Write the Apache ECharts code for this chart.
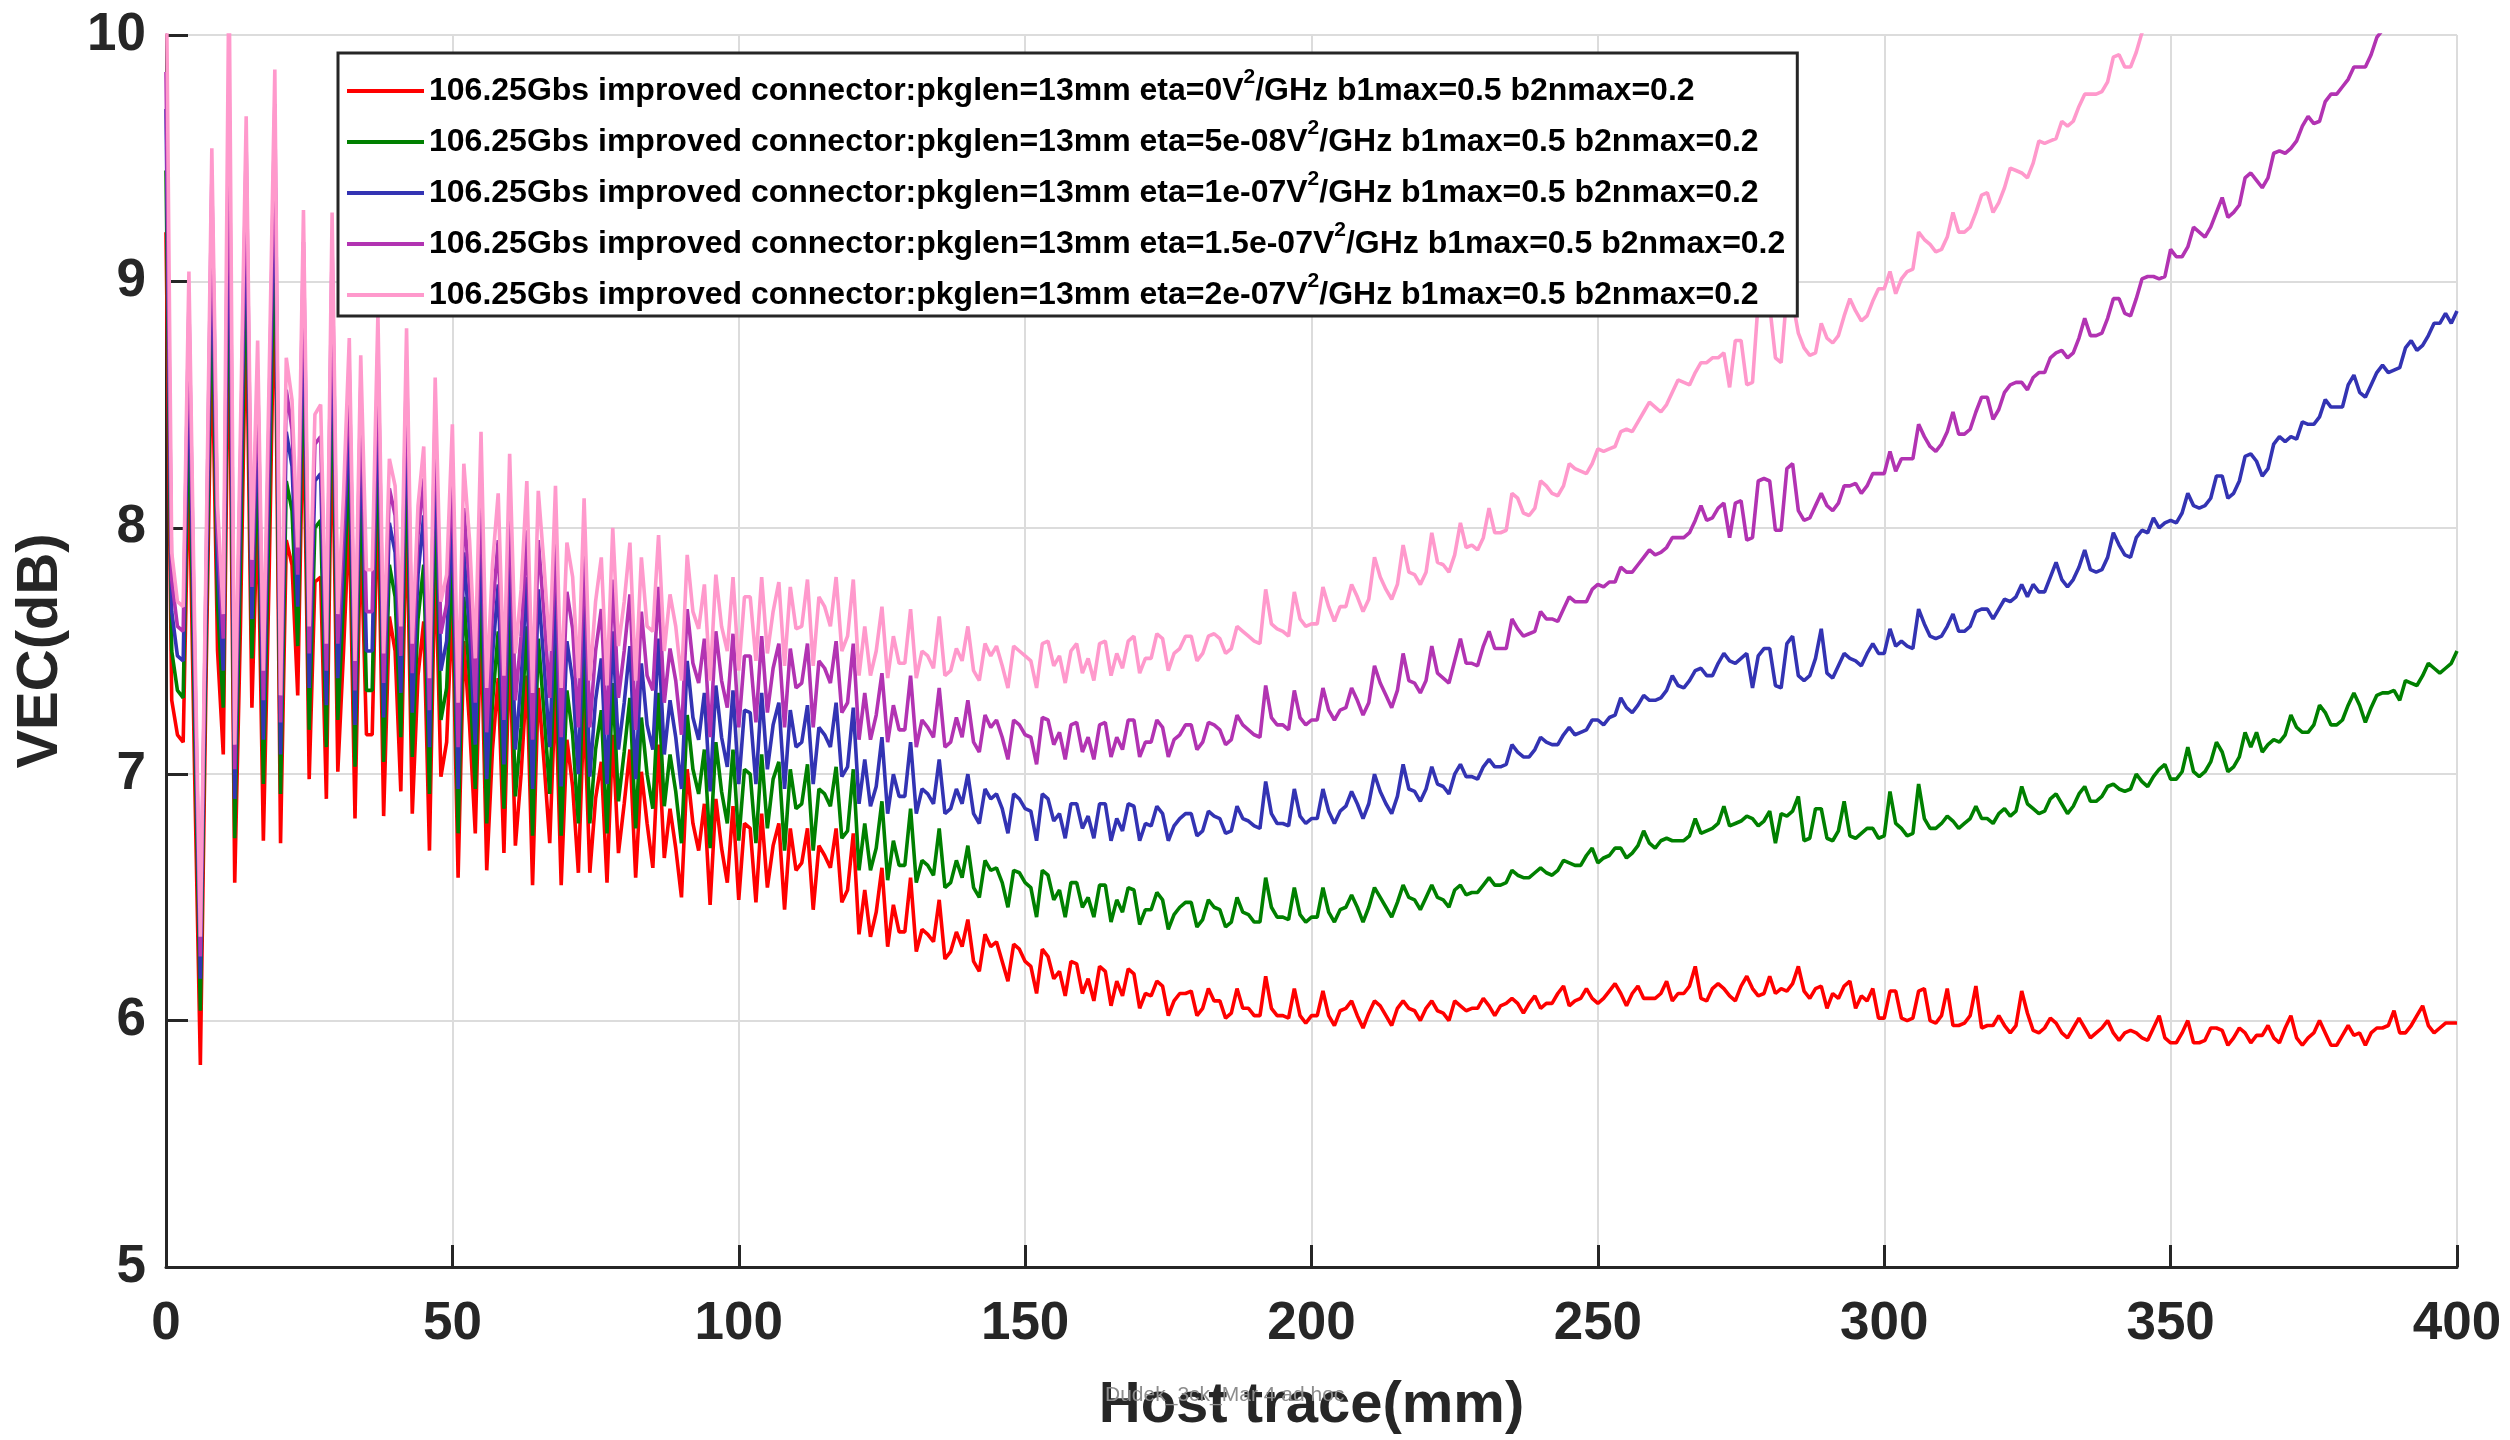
<!DOCTYPE html>
<html>
<head>
<meta charset="utf-8">
<script src="https://cdn.jsdelivr.net/npm/echarts@6/dist/echarts.min.js"></script>
<style>html,body{margin:0;padding:0;background:#fff;}#c{width:2510px;height:1440px;}</style>
</head>
<body>
<div id="c"></div>
<script>
// Host trace sampling grid (mm), one sample per mm from 0 to 400
const hostTrace = Array.from({length: 401}, (_, i) => i);

const xTicks = [0, 50, 100, 150, 200, 250, 300, 350, 400];
const yTicks = [5, 6, 7, 8, 9, 10];

const seriesNames = [
  '106.25Gbs improved connector:pkglen=13mm eta=0V^2/GHz b1max=0.5 b2nmax=0.2',
  '106.25Gbs improved connector:pkglen=13mm eta=5e-08V^2/GHz b1max=0.5 b2nmax=0.2',
  '106.25Gbs improved connector:pkglen=13mm eta=1e-07V^2/GHz b1max=0.5 b2nmax=0.2',
  '106.25Gbs improved connector:pkglen=13mm eta=1.5e-07V^2/GHz b1max=0.5 b2nmax=0.2',
  '106.25Gbs improved connector:pkglen=13mm eta=2e-07V^2/GHz b1max=0.5 b2nmax=0.2'
];

const vecEta0 = [
9.2,7.3,7.16,7.13,8.3,7.0,5.82,7.4,8.8,7.5,
7.08,9.0,6.56,7.6,8.95,7.27,8.1,6.73,7.8,9.1,
6.72,7.95,7.85,7.32,8.55,6.98,7.78,7.8,6.90,8.5,
7.01,7.5,8.05,6.82,8.0,7.16,7.16,8.15,6.83,7.64,
7.5,6.93,8.1,6.84,7.4,7.62,6.69,7.9,6.99,7.13,
7.7,6.58,7.54,7.2,6.76,7.62,6.61,7.1,7.39,6.68,
7.52,6.71,7.0,7.4,6.55,7.35,7.05,6.72,7.35,6.55,
7.14,6.95,6.60,7.28,6.60,6.9,7.05,6.56,7.16,6.68,
6.88,7.10,6.58,7.01,6.8,6.62,7.12,6.66,6.86,6.7,
6.50,7.02,6.8,6.69,6.88,6.47,6.90,6.7,6.56,6.87,
6.49,6.80,6.78,6.48,6.84,6.54,6.71,6.80,6.45,6.78,
6.61,6.64,6.78,6.45,6.71,6.67,6.62,6.78,6.48,6.53,
6.76,6.35,6.53,6.34,6.44,6.62,6.30,6.47,6.36,6.36,
6.58,6.28,6.37,6.35,6.32,6.49,6.25,6.28,6.36,6.30,
6.41,6.24,6.20,6.35,6.30,6.32,6.24,6.16,6.31,6.29,
6.24,6.22,6.11,6.29,6.26,6.17,6.20,6.10,6.24,6.23,
6.11,6.17,6.08,6.22,6.20,6.06,6.16,6.10,6.21,6.19,
6.05,6.11,6.10,6.16,6.14,6.02,6.08,6.11,6.11,6.12,
6.02,6.05,6.13,6.08,6.08,6.01,6.03,6.13,6.05,6.05,
6.02,6.02,6.18,6.05,6.02,6.02,6.01,6.13,6.02,5.99,
6.02,6.02,6.12,6.02,5.98,6.04,6.05,6.08,6.02,5.97,
6.03,6.08,6.06,6.02,5.98,6.05,6.08,6.05,6.04,6.00,
6.05,6.08,6.04,6.03,6.00,6.08,6.06,6.04,6.05,6.05,
6.09,6.06,6.02,6.06,6.07,6.09,6.07,6.03,6.07,6.10,
6.05,6.07,6.07,6.11,6.14,6.06,6.08,6.09,6.13,6.09,
6.07,6.09,6.12,6.15,6.11,6.06,6.11,6.14,6.09,6.09,
6.09,6.11,6.16,6.08,6.11,6.11,6.14,6.22,6.09,6.08,
6.13,6.15,6.13,6.10,6.08,6.14,6.18,6.13,6.10,6.11,
6.18,6.11,6.13,6.12,6.15,6.22,6.12,6.09,6.13,6.14,
6.05,6.11,6.09,6.14,6.16,6.05,6.10,6.08,6.13,6.01,
6.01,6.12,6.12,6.01,6.00,6.01,6.12,6.13,6.00,5.99,
6.02,6.13,5.98,5.98,5.99,6.02,6.14,5.97,5.98,5.98,
6.02,5.98,5.95,5.98,6.12,6.03,5.96,5.95,5.97,6.01,
5.99,5.95,5.93,5.97,6.01,5.97,5.93,5.95,5.97,6.00,
5.95,5.92,5.95,5.96,5.95,5.93,5.92,5.97,6.02,5.93,
5.91,5.91,5.95,6.00,5.91,5.91,5.92,5.97,5.97,5.96,
5.90,5.93,5.97,5.95,5.91,5.94,5.94,5.98,5.93,5.91,
5.97,6.02,5.93,5.90,5.93,5.95,6.00,5.95,5.90,5.90,
5.94,5.98,5.94,5.95,5.90,5.95,5.97,5.97,5.98,6.04,
5.95,5.95,5.98,6.02,6.06,5.98,5.95,5.97,5.99,5.99,
5.99
];

const vecEta5e08 = [
9.45,7.5,7.34,7.31,8.54,7.2,6.04,7.57,9.04,7.69,
7.27,9.35,6.74,7.86,9.19,7.47,8.32,6.96,8.06,9.35,
6.92,8.19,8.07,7.52,8.79,7.18,8.0,8.03,7.11,8.76,
7.22,7.71,8.29,7.03,8.23,7.34,7.34,8.39,7.05,7.85,
7.72,7.15,8.33,7.07,7.63,7.85,6.92,8.13,7.22,7.35,
7.88,6.76,7.72,7.39,6.94,7.81,6.80,7.29,7.58,6.86,
7.72,6.91,7.19,7.6,6.75,7.55,7.25,6.92,7.56,6.75,
7.34,7.16,6.8,7.49,6.8,7.1,7.26,6.76,7.37,6.89,
7.09,7.31,6.78,7.23,7.0,6.86,7.33,6.87,7.08,6.93,
6.72,7.24,7.02,6.92,7.1,6.7,7.13,6.93,6.8,7.1,
6.73,7.02,7.00,6.72,7.08,6.78,6.98,7.05,6.69,7.02,
6.86,6.88,7.04,6.69,6.94,6.92,6.87,7.03,6.74,6.77,
7.02,6.61,6.80,6.61,6.70,6.89,6.57,6.73,6.63,6.63,
6.86,6.56,6.65,6.63,6.59,6.78,6.54,6.56,6.65,6.58,
6.71,6.54,6.50,6.65,6.61,6.62,6.56,6.46,6.61,6.60,
6.56,6.54,6.42,6.61,6.59,6.49,6.53,6.42,6.56,6.56,
6.46,6.50,6.42,6.55,6.55,6.40,6.49,6.44,6.54,6.53,
6.39,6.45,6.45,6.52,6.49,6.37,6.43,6.46,6.48,6.48,
6.38,6.41,6.49,6.46,6.45,6.38,6.40,6.50,6.44,6.43,
6.40,6.40,6.58,6.46,6.42,6.42,6.41,6.54,6.43,6.40,
6.42,6.42,6.54,6.44,6.40,6.45,6.46,6.51,6.46,6.40,
6.46,6.54,6.50,6.46,6.42,6.48,6.55,6.50,6.49,6.45,
6.50,6.55,6.50,6.49,6.46,6.53,6.55,6.51,6.52,6.52,
6.55,6.58,6.55,6.55,6.56,6.61,6.59,6.58,6.58,6.60,
6.62,6.60,6.59,6.61,6.65,6.64,6.63,6.63,6.67,6.70,
6.64,6.66,6.67,6.70,6.70,6.66,6.68,6.71,6.77,6.72,
6.70,6.73,6.74,6.73,6.73,6.73,6.75,6.82,6.76,6.77,
6.78,6.80,6.87,6.79,6.80,6.81,6.83,6.82,6.79,6.81,
6.85,6.72,6.84,6.83,6.85,6.91,6.73,6.74,6.86,6.86,
6.74,6.73,6.77,6.89,6.75,6.74,6.76,6.78,6.78,6.74,
6.75,6.93,6.80,6.78,6.75,6.76,6.96,6.82,6.78,6.78,
6.80,6.83,6.81,6.78,6.80,6.82,6.87,6.82,6.82,6.80,
6.84,6.86,6.83,6.85,6.95,6.88,6.86,6.84,6.85,6.90,
6.92,6.88,6.84,6.87,6.92,6.95,6.89,6.89,6.91,6.95,
6.96,6.94,6.93,6.94,7.00,6.97,6.95,6.99,7.02,7.04,
6.98,6.98,7.01,7.11,7.01,6.99,7.01,7.05,7.13,7.09,
7.01,7.03,7.07,7.17,7.11,7.17,7.09,7.12,7.14,7.13,
7.16,7.24,7.19,7.17,7.17,7.20,7.28,7.25,7.20,7.20,
7.22,7.28,7.33,7.28,7.21,7.27,7.32,7.33,7.33,7.34,
7.30,7.38,7.37,7.36,7.40,7.45,7.43,7.41,7.43,7.45,
7.50
];

const vecEta1e07 = [
9.7,7.66,7.48,7.46,8.74,7.36,6.17,7.7,9.24,7.85,
7.42,9.6,6.9,8.08,9.38,7.63,8.5,7.14,8.28,9.56,
7.08,8.39,8.25,7.68,8.99,7.35,8.19,8.22,7.28,8.97,
7.39,7.88,8.48,7.2,8.42,7.5,7.5,8.58,7.23,8.02,
7.9,7.33,8.53,7.25,7.81,8.05,7.11,8.33,7.42,7.54,
8.06,6.94,7.90,7.58,7.12,8.0,6.98,7.48,7.77,7.04,
7.91,7.10,7.38,7.8,6.94,7.75,7.45,7.11,7.76,6.95,
7.54,7.38,7.0,7.7,6.99,7.3,7.47,6.96,7.58,7.1,
7.29,7.52,6.98,7.45,7.2,7.1,7.55,7.08,7.3,7.15,
6.94,7.46,7.23,7.14,7.33,6.93,7.36,7.15,7.03,7.34,
6.96,7.26,7.25,6.96,7.33,7.02,7.20,7.29,6.94,7.26,
7.11,7.13,7.28,6.96,7.19,7.16,7.11,7.29,6.99,7.03,
7.27,6.88,7.06,6.87,6.95,7.15,6.84,7.00,6.91,6.91,
7.13,6.84,6.94,6.92,6.88,7.06,6.84,6.86,6.94,6.88,
7.00,6.84,6.80,6.94,6.90,6.92,6.86,6.76,6.92,6.90,
6.86,6.85,6.73,6.92,6.90,6.81,6.84,6.74,6.88,6.88,
6.78,6.83,6.74,6.88,6.88,6.73,6.82,6.77,6.88,6.87,
6.73,6.80,6.79,6.87,6.84,6.73,6.79,6.82,6.84,6.84,
6.75,6.77,6.85,6.83,6.82,6.76,6.77,6.87,6.82,6.81,
6.79,6.78,6.97,6.84,6.80,6.80,6.79,6.94,6.83,6.80,
6.82,6.82,6.94,6.85,6.80,6.85,6.87,6.93,6.88,6.82,
6.88,7.00,6.93,6.88,6.84,6.91,7.04,6.94,6.93,6.89,
6.94,7.03,6.96,6.95,6.92,7.00,7.04,6.99,6.99,6.98,
7.03,7.06,7.03,7.03,7.04,7.12,7.09,7.07,7.07,7.10,
7.15,7.13,7.12,7.12,7.16,7.19,7.16,7.17,7.18,7.22,
7.22,7.20,7.23,7.24,7.31,7.27,7.25,7.28,7.32,7.30,
7.30,7.31,7.34,7.40,7.36,7.35,7.38,7.42,7.43,7.40,
7.40,7.45,7.49,7.46,7.45,7.47,7.49,7.35,7.48,7.51,
7.51,7.36,7.35,7.53,7.56,7.40,7.38,7.40,7.47,7.59,
7.41,7.39,7.44,7.49,7.47,7.46,7.44,7.49,7.53,7.49,
7.49,7.59,7.52,7.54,7.52,7.51,7.67,7.61,7.56,7.55,
7.56,7.60,7.65,7.58,7.58,7.60,7.66,7.67,7.67,7.63,
7.67,7.71,7.70,7.72,7.77,7.72,7.77,7.74,7.74,7.80,
7.86,7.79,7.76,7.79,7.84,7.91,7.83,7.82,7.83,7.88,
7.98,7.93,7.89,7.88,7.96,7.99,7.98,8.04,8.00,8.02,
8.03,8.02,8.06,8.14,8.09,8.08,8.09,8.12,8.21,8.21,
8.12,8.14,8.19,8.29,8.30,8.27,8.21,8.24,8.34,8.37,
8.35,8.37,8.36,8.43,8.42,8.42,8.45,8.52,8.49,8.49,
8.49,8.58,8.62,8.55,8.53,8.58,8.63,8.66,8.63,8.64,
8.65,8.73,8.76,8.72,8.74,8.78,8.83,8.83,8.87,8.83,
8.88
];

const vecEta15e08 = [
9.85,7.79,7.60,7.58,8.91,7.49,6.26,7.81,9.41,7.98,
7.55,9.85,7.02,8.26,9.54,7.76,8.64,7.30,8.46,9.72,
7.21,8.56,8.4,7.81,9.16,7.49,8.34,8.37,7.42,9.14,
7.53,8.02,8.64,7.34,8.57,7.66,7.66,8.74,7.37,8.16,
8.05,7.48,8.68,7.41,7.97,8.2,7.26,8.48,7.57,7.69,
8.24,7.11,8.08,7.76,7.29,8.2,7.17,7.66,7.95,7.22,
8.11,7.30,7.56,7.99,7.14,7.95,7.65,7.31,7.97,7.15,
7.74,7.59,7.19,7.91,7.19,7.5,7.67,7.16,7.79,7.31,
7.5,7.73,7.18,7.66,7.4,7.34,7.76,7.29,7.51,7.38,
7.16,7.67,7.45,7.37,7.55,7.15,7.58,7.38,7.27,7.57,
7.19,7.48,7.48,7.21,7.56,7.25,7.43,7.53,7.19,7.51,
7.35,7.37,7.53,7.19,7.46,7.43,7.37,7.54,7.25,7.29,
7.53,7.14,7.33,7.14,7.24,7.41,7.13,7.28,7.18,7.18,
7.40,7.11,7.22,7.19,7.15,7.35,7.11,7.13,7.23,7.15,
7.30,7.13,7.09,7.24,7.19,7.22,7.15,7.06,7.22,7.20,
7.16,7.15,7.04,7.23,7.22,7.12,7.17,7.06,7.20,7.21,
7.09,7.15,7.06,7.20,7.21,7.07,7.15,7.10,7.22,7.22,
7.07,7.13,7.13,7.22,7.19,7.07,7.14,7.16,7.20,7.20,
7.10,7.13,7.21,7.20,7.18,7.12,7.14,7.24,7.20,7.18,
7.16,7.15,7.36,7.23,7.20,7.20,7.18,7.34,7.23,7.20,
7.22,7.22,7.35,7.26,7.22,7.26,7.27,7.35,7.30,7.24,
7.29,7.44,7.37,7.32,7.27,7.34,7.49,7.38,7.37,7.33,
7.38,7.52,7.41,7.39,7.37,7.46,7.55,7.45,7.45,7.44,
7.52,7.58,7.51,7.51,7.51,7.63,7.59,7.56,7.57,7.58,
7.66,7.63,7.63,7.62,7.67,7.72,7.70,7.70,7.70,7.75,
7.77,7.76,7.78,7.78,7.84,7.82,7.82,7.85,7.88,7.91,
7.89,7.90,7.92,7.96,7.96,7.96,7.98,8.03,8.09,8.03,
8.04,8.08,8.10,7.96,8.10,8.11,7.95,7.96,8.19,8.20,
8.19,7.99,7.99,8.24,8.26,8.07,8.03,8.04,8.09,8.14,
8.09,8.07,8.10,8.17,8.17,8.18,8.14,8.17,8.22,8.22,
8.22,8.31,8.23,8.28,8.28,8.28,8.42,8.37,8.33,8.31,
8.34,8.39,8.47,8.38,8.38,8.40,8.47,8.53,8.53,8.44,
8.48,8.55,8.58,8.59,8.59,8.56,8.61,8.63,8.63,8.69,
8.71,8.72,8.69,8.71,8.77,8.85,8.78,8.78,8.79,8.85,
8.93,8.93,8.87,8.86,8.93,9.01,9.02,9.02,9.01,9.02,
9.13,9.10,9.10,9.14,9.22,9.20,9.18,9.22,9.28,9.34,
9.26,9.28,9.31,9.42,9.44,9.41,9.38,9.42,9.52,9.53,
9.52,9.54,9.57,9.63,9.67,9.64,9.65,9.73,9.76,9.76,
9.79,9.82,9.87,9.87,9.87,9.92,9.99,10.02,10.05,10.06,
10.12,10.15,10.14,10.18,10.22,10.20,10.24,10.28,10.27,10.30,
10.35
];

const vecEta2e07 = [
10.4,7.9,7.70,7.68,9.04,7.6,6.34,7.9,9.54,8.09,
7.65,10.3,7.12,8.4,9.67,7.87,8.76,7.42,8.6,9.86,
7.32,8.69,8.52,7.92,9.29,7.6,8.46,8.5,7.53,9.28,
7.65,8.14,8.77,7.46,8.7,7.83,7.83,8.87,7.49,8.28,
8.17,7.6,8.81,7.53,8.09,8.33,7.39,8.61,7.7,7.81,
8.42,7.29,8.26,7.95,7.47,8.39,7.35,7.85,8.14,7.40,
8.30,7.49,7.75,8.19,7.33,8.15,7.85,7.50,8.17,7.35,
7.94,7.8,7.39,8.12,7.38,7.7,7.88,7.36,8.0,7.52,
7.7,7.94,7.38,7.88,7.6,7.58,7.97,7.50,7.73,7.6,
7.38,7.89,7.66,7.59,7.77,7.38,7.81,7.6,7.50,7.80,
7.42,7.72,7.72,7.46,7.80,7.49,7.66,7.78,7.44,7.76,
7.59,7.60,7.79,7.44,7.72,7.68,7.60,7.80,7.50,7.56,
7.79,7.40,7.60,7.40,7.50,7.68,7.39,7.56,7.45,7.45,
7.67,7.39,7.50,7.48,7.43,7.64,7.40,7.42,7.51,7.46,
7.60,7.42,7.38,7.53,7.48,7.52,7.44,7.35,7.52,7.50,
7.48,7.46,7.35,7.53,7.54,7.44,7.48,7.37,7.50,7.53,
7.41,7.47,7.38,7.53,7.54,7.40,7.49,7.43,7.54,7.56,
7.41,7.47,7.47,7.57,7.55,7.42,7.49,7.51,7.56,7.56,
7.46,7.49,7.56,7.57,7.55,7.49,7.51,7.60,7.58,7.56,
7.54,7.53,7.75,7.61,7.59,7.58,7.56,7.74,7.63,7.60,
7.61,7.61,7.76,7.68,7.62,7.68,7.68,7.77,7.72,7.66,
7.71,7.88,7.80,7.75,7.71,7.77,7.93,7.82,7.81,7.77,
7.82,7.98,7.86,7.85,7.82,7.89,8.02,7.92,7.93,7.91,
7.96,8.08,7.98,7.98,7.99,8.14,8.12,8.06,8.05,8.08,
8.19,8.17,8.14,8.13,8.17,8.26,8.24,8.23,8.22,8.26,
8.32,8.31,8.32,8.33,8.39,8.40,8.39,8.43,8.47,8.51,
8.49,8.47,8.50,8.55,8.60,8.59,8.58,8.63,8.67,8.67,
8.69,8.69,8.71,8.57,8.76,8.76,8.58,8.59,8.92,8.95,
8.90,8.69,8.67,8.95,8.92,8.79,8.73,8.70,8.71,8.83,
8.77,8.75,8.78,8.86,8.93,8.88,8.84,8.86,8.92,8.97,
8.97,9.04,8.95,9.01,9.04,9.05,9.20,9.17,9.15,9.12,
9.13,9.18,9.28,9.20,9.20,9.22,9.28,9.35,9.36,9.28,
9.32,9.38,9.46,9.45,9.44,9.42,9.48,9.57,9.56,9.57,
9.58,9.65,9.63,9.65,9.71,9.76,9.76,9.76,9.77,9.81,
9.91,9.92,9.87,9.87,9.93,10.01,10.03,10.05,10.06,10.05,
10.12,10.12,10.13,10.17,10.22,10.22,10.22,10.25,10.30,10.35,
10.30,10.32,10.35,10.45,10.47,10.45,10.43,10.46,10.55,10.57,
10.56,10.58,10.60,10.67,10.70,10.68,10.70,10.78,10.80,10.80,
10.83,10.87,10.92,10.92,10.92,10.97,11.04,11.07,11.10,11.12,
11.18,11.20,11.20,11.25,11.29,11.28,11.32,11.37,11.37,11.40,
11.45
];

const seriesValues = [vecEta0, vecEta5e08, vecEta1e07, vecEta15e08, vecEta2e07];
const seriesColors = ['#ff0000', '#008000', '#3333b3', '#b233b2', '#ff99cc'];

seriesValues.forEach((arr, k) => {
  if (arr.length !== hostTrace.length) throw new Error('series ' + k + ' has ' + arr.length + ' values');
});

const FONT = '"Liberation Sans", Arial, Helvetica, sans-serif';
const DARK = '#262626';

const chart = echarts.init(document.getElementById('c'), null, {renderer: 'canvas'});

const series = seriesNames.map((name, k) => ({
  name: name,
  type: 'line',
  data: hostTrace.map((x, i) => [x, seriesValues[k][i]]),
  showSymbol: false,
  symbol: 'none',
  clip: true,
  lineStyle: {color: seriesColors[k], width: 3.6},
  itemStyle: {color: seriesColors[k]},
  z: 2 + k,
  animation: false
}));

chart.setOption({
  animation: false,
  backgroundColor: '#ffffff',
  grid: {left: 166, top: 35, width: 2291, height: 1238, containLabel: false},
  xAxis: {
    type: 'value', min: xTicks[0], max: xTicks[xTicks.length - 1], interval: 50,
    name: 'Host trace(mm)', nameLocation: 'middle', nameGap: 110,
    nameTextStyle: {fontFamily: FONT, fontWeight: 'bold', fontSize: 58, color: DARK},
    axisLine: {show: true, onZero: false, lineStyle: {color: DARK, width: 3}},
    axisTick: {show: true, inside: true, length: 22, lineStyle: {color: DARK, width: 3}},
    axisLabel: {fontFamily: FONT, fontWeight: 'bold', fontSize: 53, color: DARK, margin: 31},
    splitLine: {show: true, lineStyle: {color: '#dcdcdc', width: 2}}
  },
  yAxis: {
    type: 'value', min: yTicks[0], max: yTicks[yTicks.length - 1], interval: 1,
    name: 'VEC(dB)', nameLocation: 'middle', nameGap: 96,
    nameTextStyle: {fontFamily: FONT, fontWeight: 'bold', fontSize: 58, color: DARK},
    axisLine: {show: true, onZero: false, lineStyle: {color: DARK, width: 3}},
    axisTick: {show: true, inside: true, length: 22, lineStyle: {color: DARK, width: 3}},
    axisLabel: {fontFamily: FONT, fontWeight: 'bold', fontSize: 53, color: DARK, margin: 20},
    splitLine: {show: true, lineStyle: {color: '#dcdcdc', width: 2}}
  },
  legend: {
    orient: 'vertical', left: 338, top: 53,
    padding: [14, 12, 5, 9],
    itemGap: 11, itemWidth: 77, itemHeight: 4, icon: 'rect',
    selectedMode: false,
    backgroundColor: '#ffffff', borderColor: DARK, borderWidth: 3, borderRadius: 0,
    data: seriesNames,
    formatter: function (name) {
      const parts = name.split('^2');
      return '{t|' + parts[0] + '}{s|2}{t|' + parts[1] + '}';
    },
    textStyle: {
      color: '#000',
      rich: {
        t: {fontFamily: FONT, fontWeight: 'bold', fontSize: 32, lineHeight: 48, color: '#000'},
        s: {fontFamily: FONT, fontWeight: 'bold', fontSize: 21, lineHeight: 21, verticalAlign: 'top', color: '#000'}
      }
    },
    z: 20
  },
  graphic: [{
    type: 'text', left: 1105, top: 1385, z: 100,
    style: {text: 'Dudek_3ck_Mar 4 ad hoc', fontFamily: FONT, fontSize: 21, fill: '#8c8c8c'}
  }],
  series: series
});
</script>
</body>
</html>
